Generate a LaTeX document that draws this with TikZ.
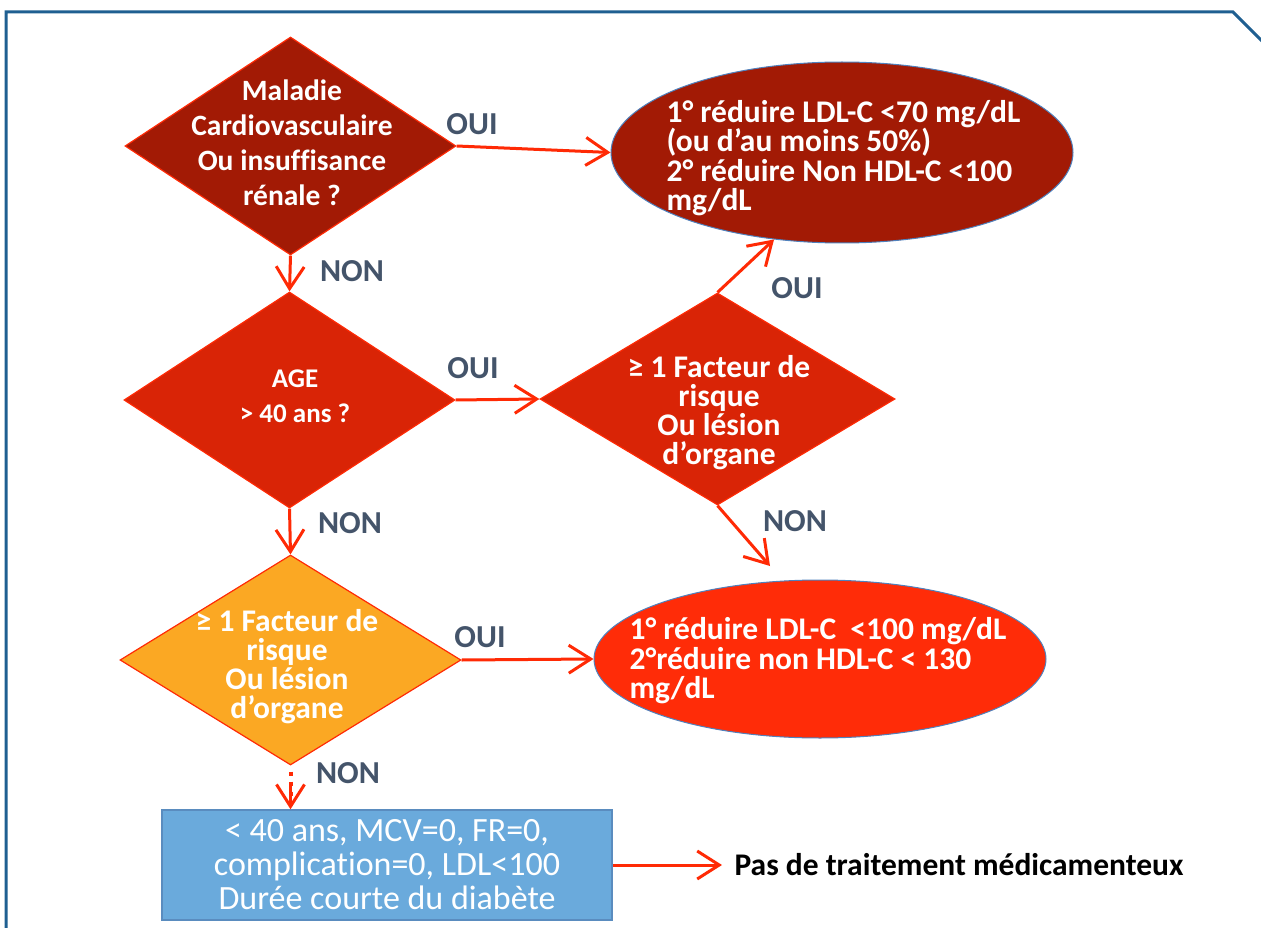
\documentclass[tikz,border=0pt]{standalone}
\usepackage{fontspec}
\setmainfont{Carlito}[Ligatures={NoCommon,NoRare,NoContextual}]
\usetikzlibrary{shapes.geometric,arrows.meta}
\definecolor{framec}{HTML}{1F5F91}
\definecolor{darkred}{HTML}{A21A05}
\definecolor{midred}{HTML}{D92406}
\definecolor{brightred}{HTML}{FF2C08}
\definecolor{orangec}{HTML}{FBA823}
\definecolor{arrowc}{HTML}{FF2A05}
\definecolor{lblc}{HTML}{44546A}
\definecolor{boxc}{HTML}{6AAADC}
\definecolor{boxb}{HTML}{5A8CBF}
\definecolor{ellb}{HTML}{4F81BD}
\begin{document}
\begin{tikzpicture}[x=1pt,y=-1pt,
  decision/.style={diamond,inner sep=0pt,draw=arrowc,line width=1.2pt},
  outcome/.style={ellipse,inner sep=0pt,draw=ellb,line width=1pt},
  dtext/.style={text=white,align=center,font=\fontsize{29.5}{35}\selectfont\bfseries},
  dtexta/.style={text=white,align=center,font=\fontsize{27}{35}\selectfont\bfseries},
  dtextb/.style={text=white,align=center,font=\fontsize{31.5}{29}\selectfont\bfseries},
  etext/.style={text=white,align=left,anchor=west,font=\fontsize{31.5}{29.5}\selectfont\bfseries},
  lbl/.style={text=lblc,font=\fontsize{32}{34}\selectfont\bfseries},
  flow/.style={draw=arrowc,line width=3pt,-{Straight Barb[length=22pt,width=28pt,line width=3pt]}},
]
\useasboundingbox (0,0) rectangle (1261,928);
% frame
\draw[framec,line width=3pt] (6,935) -- (6,12) -- (1233,12) -- (1268,47);

% decisions
\node[decision,fill=darkred,minimum width=331pt,minimum height=218pt] (d1) at (290.5,146) {};
\node[dtext] (t1) at (292,143) {Maladie\\Cardiovasculaire\\Ou insuffisance\\rénale ?};

\node[decision,fill=midred,minimum width=331pt,minimum height=216pt] (d2) at (289.5,400) {};
\node[dtexta] (t2) at (295,396) {AGE\\> 40 ans ?};

\node[decision,fill=midred,minimum width=355pt,minimum height=212pt] (d3) at (717.5,399) {};
\node[dtextb] (t3) at (719,413) {≥ 1 Facteur de\\risque\\Ou lésion\\d’organe};

\node[decision,fill=orangec,minimum width=341pt,minimum height=210pt] (d4) at (290.5,660) {};
\node[dtextb] (t4) at (287,667) {≥ 1 Facteur de\\risque\\Ou lésion\\d’organe};

% outcomes
\node[outcome,fill=darkred,minimum width=462pt,minimum height=181pt] (e1) at (842,152.5) {};
\node[etext] (te1) at (663,158) {1° réduire LDL-C <70 mg/dL\\(ou d’au moins 50\%)\\2° réduire Non HDL-C <100\\mg/dL};

\node[outcome,fill=brightred,minimum width=452pt,minimum height=158pt] (e2) at (820,659) {};
\node[etext] (te2) at (626,661) {1° réduire LDL-C \ <100 mg/dL\\2°réduire non HDL-C < 130\\mg/dL};

% box
\node[draw=boxb,fill=boxc,line width=1.5pt,minimum width=450pt,minimum height=110pt,inner sep=0pt,
  text=white,align=center,font=\fontsize{34}{34}\selectfont] (bx) at (387,865)
  {< 40 ans, MCV=0, FR=0,\\complication=0, LDL<100\\Durée courte du diabète};
\coordinate (bxend) at (722,865);
\node[anchor=west,font=\fontsize{31.5}{34}\selectfont\bfseries] (pas) at (731,865) {Pas de traitement médicamenteux};

\coordinate (n3end) at (770,566);
\coordinate (bxtop) at (d4.south |- bx.north);
\coordinate (headstart) at ([yshift=24pt]bxtop);

% connectors
\draw[flow] (d1.east) -- (e1.west);
\draw[flow] (d1.south) -- (d2.north);
\draw[flow] (d2.east) -- (d3.west);
\draw[flow] (d3.north) -- (e1.232);
\draw[flow] (d3.south) -- (n3end);
\draw[flow] (d2.south) -- (d4.north);
\draw[flow] (d4.east) -- (e2.west);
\draw[draw=arrowc,line width=4pt,dash pattern=on 4pt off 6pt] (d4.south) ++(0,6) -- ([yshift=3pt]bxtop);
\draw[flow] (headstart) -- (bxtop);
\draw[flow] (bx.east) -- (bxend);

% labels
\node[lbl] (l1) at (472,124) {OUI};
\node[lbl] (l2) at (352,271) {NON};
\node[lbl] (l3) at (473,368) {OUI};
\node[lbl] (l4) at (797,288) {OUI};
\node[lbl] (l5) at (350,523) {NON};
\node[lbl] (l6) at (795,521) {NON};
\node[lbl] (l7) at (480,637) {OUI};
\node[lbl] (l8) at (348,773) {NON};
\end{tikzpicture}
\end{document}
